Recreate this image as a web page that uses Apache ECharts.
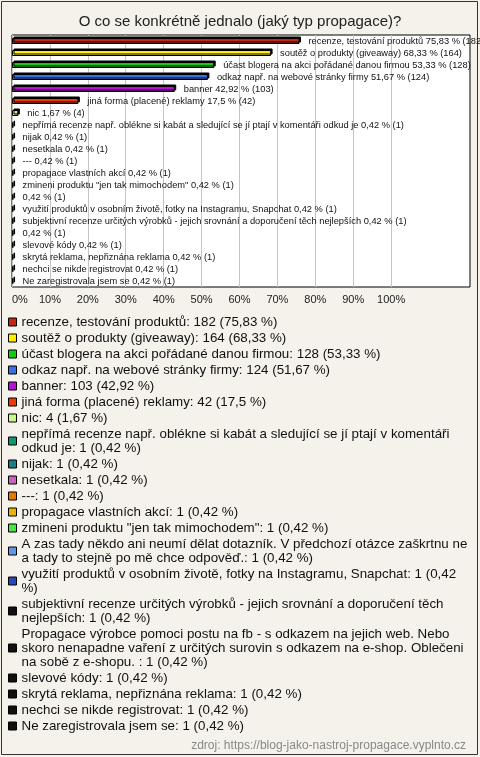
<!DOCTYPE html>
<html>
<head>
<meta charset="utf-8">
<script src="https://cdn.jsdelivr.net/npm/echarts@6/dist/echarts.min.js"></script>
<style>
  html, body { margin: 0; padding: 0; background: #fff; }
  #chart { width: 480px; height: 757px; }
</style>
</head>
<body>
<div id="chart"></div>
<script>
  // odpovědi (plné znění, jak je v legendě)
  const names = [
    'recenze, testování produktů',
    'soutěž o produkty (giveaway)',
    'účast blogera na akci pořádané danou firmou',
    'odkaz např. na webové stránky firmy',
    'banner',
    'jiná forma (placené) reklamy',
    'nic',
    'nepřímá recenze např. oblékne si kabát a sledující se jí ptají v komentáři odkud je',
    'nijak',
    'nesetkala',
    '---',
    'propagace vlastních akcí',
    'zmineni produktu "jen tak mimochodem"',
    'A zas tady někdo ani neumí dělat dotazník. V předchozí otázce zaškrtnu ne a tady to stejně po mě chce odpověď.',
    'využití produktů v osobním životě, fotky na Instagramu, Snapchat',
    'subjektivní recenze určitých výrobků - jejich srovnání a doporučení těch nejlepších',
    'Propagace výrobce pomoci postu na fb - s odkazem na jejich web. Nebo skoro nenapadne vaření z určitých surovin s odkazem na e-shop. Oblečeni na sobě z e-shopu. ',
    'slevové kódy',
    'skrytá reklama, nepřiznána reklama',
    'nechci se nikde registrovat',
    'Ne zaregistrovala jsem se'
  ]
  const counts = [182, 164, 128, 124, 103, 42, 4, 1, 1, 1, 1, 1, 1, 1, 1, 1, 1, 1, 1, 1, 1]
  const pcts = [75.83, 68.33, 53.33, 51.67, 42.92, 17.5, 1.67, 0.42, 0.42, 0.42, 0.42, 0.42, 0.42, 0.42, 0.42, 0.42, 0.42, 0.42, 0.42, 0.42, 0.42]
  const colors = ['#c02818', '#ffee00', '#14c814', '#3c6ee6', '#b414d2', '#e63c0a', '#c8f58c', '#14966e',
    '#1e7d8c', '#c864be', '#e6780a', '#e6b40a', '#46e646', '#6496e6', '#2846b4',
    '#111', '#111', '#111', '#111', '#111', '#111']
  const xTicks = [0, 10, 20, 30, 40, 50, 60, 70, 80, 90, 100]

  const fmt = v => String(v).replace('.', ',')
  const font = 'Liberation Sans, Arial, sans-serif'
  const legendSize = 13.35

  // zalamování textu legendy po slovech
  const ctx = document.createElement('canvas').getContext('2d')
  ctx.font = legendSize + 'px ' + font
  function wrap (text, maxWidth) {
    const words = text.split(' ')
    const lines = []
    let line = ''
    words.forEach(w => {
      const test = line ? line + ' ' + w : w
      if (line && ctx.measureText(test).width > maxWidth) {
        lines.push(line)
        line = w
      } else {
        line = test
      }
    })
    lines.push(line)
    return lines.join('\n')
  }

  const series = names.map((name, i) => ({
    type: 'bar',
    name: name,
    stack: 'all',
    barWidth: 6,
    itemStyle: {
      color: colors[i],
      borderColor: '#000',
      borderWidth: 1,
      shadowColor: '#000',
      shadowOffsetX: 1.5,
      shadowOffsetY: -1.5
    },
    label: {
      show: true,
      position: 'right',
      distance: 9,
      fontFamily: font,
      fontSize: 9.3,
      color: '#111',
      // dlouhé odpovědi graf nevypisuje
      formatter: () => (name.length > 100 ? '' : name + ' ') + fmt(pcts[i]) + ' % (' + counts[i] + ')'
    },
    data: names.map((n, j) => (j === i ? pcts[i] : '-'))
  }))

  const mychart = echarts.init(document.getElementById('chart'))
  mychart.setOption({
    backgroundColor: '#f4f2eb',
    animation: false,
    title: [
      {
        text: 'O co se konkrétně jednalo (jaký typ propagace)?',
        left: 'center',
        top: 9,
        textStyle: { fontFamily: font, fontSize: 15, fontWeight: 'normal', color: '#222' }
      },
      {
        text: 'zdroj: https://blog-jako-nastroj-propagace.vyplnto.cz',
        right: 9,
        top: 735,
        textStyle: { fontFamily: font, fontSize: 12, fontWeight: 'normal', color: '#888' }
      }
    ],
    graphic: [{
      type: 'rect',
      shape: { x: 1.5, y: 1.5, width: 476, height: 753 },
      style: { fill: 'none', stroke: '#333', lineWidth: 1 },
      silent: true
    }],
    grid: {
      left: 12,
      top: 35,
      width: 458,
      height: 252,
      show: true,
      backgroundColor: '#fff',
      borderColor: '#000',
      borderWidth: 1
    },
    xAxis: {
      type: 'value',
      min: 0,
      max: 120.8,
      interval: 10,
      axisLine: { show: false },
      axisTick: { show: false },
      axisLabel: {
        margin: 7,
        alignMinLabel: 'left',
        fontFamily: font,
        fontSize: 11,
        color: '#222',
        formatter: v => (xTicks.includes(v) ? v + '%' : '')
      },
      splitLine: {
        show: true,
        lineStyle: {
          color: xTicks.map(() => '#c4c4c4').concat(['rgba(0,0,0,0)', 'rgba(0,0,0,0)', 'rgba(0,0,0,0)']),
          width: 1
        }
      }
    },
    yAxis: {
      type: 'category',
      inverse: true,
      data: names,
      show: false
    },
    legend: {
      orient: 'vertical',
      left: 3,
      top: 310,
      itemGap: 2,
      itemWidth: 8,
      itemHeight: 8,
      selectedMode: false,
      icon: 'rect',
      itemStyle: { borderColor: '#000', borderWidth: 1 },
      textStyle: {
        fontFamily: font,
        fontSize: legendSize,
        lineHeight: 14,
        color: '#111'
      },
      formatter: name => {
        const i = names.indexOf(name)
        return wrap(name + ': ' + counts[i] + ' (' + fmt(pcts[i]) + ' %)', 450)
      },
      data: names
    },
    series: series
  })
</script>
</body>
</html>
